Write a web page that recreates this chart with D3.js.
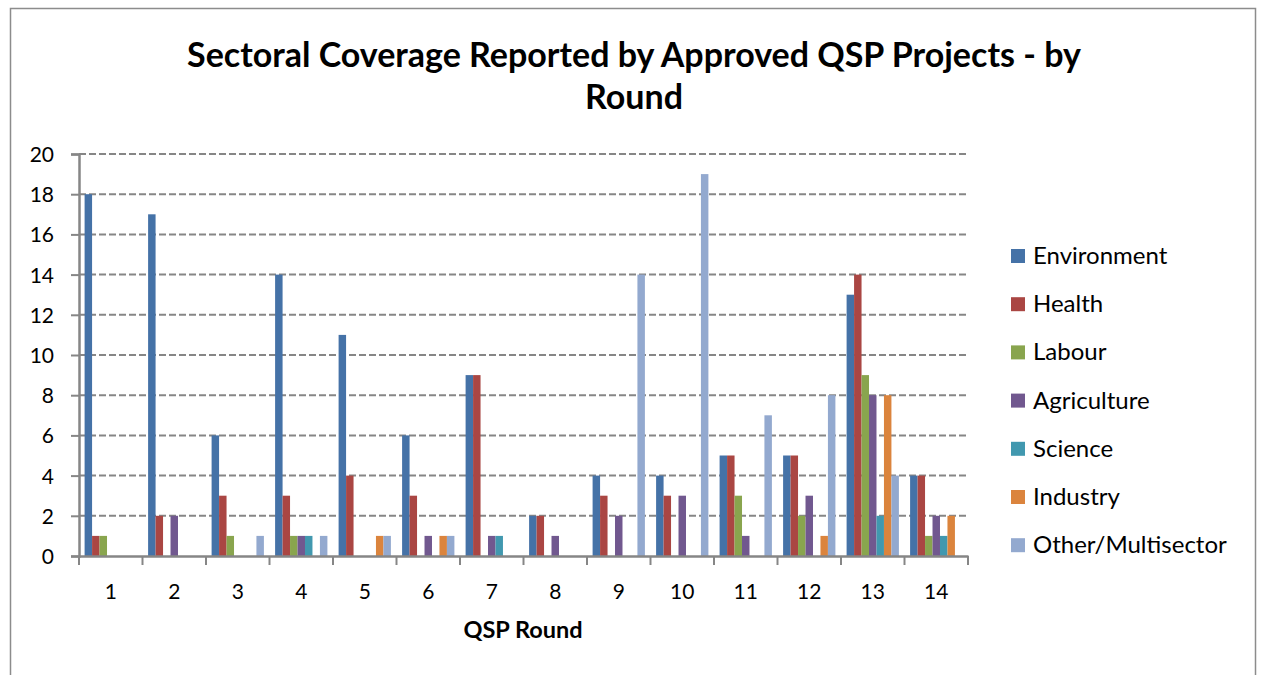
<!DOCTYPE html>
<html><head><meta charset="utf-8">
<script src="https://cdn.jsdelivr.net/npm/d3@7"></script>
<style>body{margin:0;background:#fff}svg{display:block}</style>
</head><body>
<svg id="c" width="1264" height="675"></svg>
<script>
const rounds = ["1","2","3","4","5","6","7","8","9","10","11","12","13","14"];
const seriesNames = ["Environment","Health","Labour","Agriculture","Science","Industry","Other/Multisector"];
const environment = [18,17,6,14,11,6,9,2,4,4,5,5,13,4];
const health      = [1,2,3,3,4,3,9,2,3,3,5,5,14,4];
const labour      = [1,0,1,1,0,0,0,0,0,0,3,2,9,1];
const agriculture = [0,2,0,1,0,1,1,1,2,3,1,3,8,2];
const science     = [0,0,0,1,0,0,1,0,0,0,0,0,2,1];
const industry    = [0,0,0,0,1,1,0,0,0,0,0,1,8,2];
const other       = [0,0,1,1,1,1,0,0,14,19,7,8,4,0];
const yTicks = [0,2,4,6,8,10,12,14,16,18,20];
const colors = ["#4572A7","#AA4643","#89A54E","#71588F","#4198AF","#DB843D","#93A9CF"];
const values = [environment,health,labour,agriculture,science,industry,other];

const svg = d3.select("#c");
const font = "Lato, 'Open Sans', sans-serif";
svg.append("rect").attr("x",10.5).attr("y",8.5).attr("width",1245).attr("height",700)
  .attr("fill","#fff").attr("stroke","#8c8c8c").attr("stroke-width",1.5);

const L=79, R=968, T=154, B=556;
const x = d3.scaleBand().domain(rounds).range([L,R]).padding(0);
const y = d3.scaleLinear().domain([0,20]).range([B,T]);
const bw = x.bandwidth()/8.5;
const xs = d3.scaleBand().domain(seriesNames).range([0.75*bw, 7.75*bw]);

svg.append("g").selectAll("line").data(yTicks.filter(d=>d>0)).join("line")
  .attr("x1",L).attr("x2",R).attr("y1",d=>y(d)).attr("y2",d=>y(d))
  .attr("stroke","#868686").attr("stroke-width",2).attr("stroke-dasharray","7,3");

const g = svg.append("g");
seriesNames.forEach((s,i)=>{
  g.append("g").selectAll("rect").data(rounds.map((r,j)=>({r,v:values[i][j]}))).join("rect")
    .attr("x",d=>x(d.r)+xs(s)).attr("width",xs.bandwidth())
    .attr("y",d=>y(d.v)).attr("height",d=>B-y(d.v)).attr("fill",colors[i]);
});

const ya = svg.append("g").attr("transform",`translate(${L},0)`)
  .call(d3.axisLeft(y).tickValues(yTicks).tickSize(8).tickPadding(17));
ya.select(".domain").attr("stroke","#868686").attr("stroke-width",2.5);
ya.selectAll(".tick line").attr("stroke","#868686").attr("stroke-width",2);
ya.selectAll("text").attr("font-family",font).attr("font-size",21).attr("fill","#000").attr("dy","0.36em");

const xa = svg.append("g").attr("transform",`translate(0,${B})`)
  .call(d3.axisBottom(x).tickSize(0).tickPadding(28));
xa.select(".domain").attr("stroke","#868686").attr("stroke-width",2.5);
xa.selectAll("text").attr("font-family",font).attr("font-size",21).attr("fill","#000");
svg.append("g").selectAll("line").data(d3.range(15)).join("line")
  .attr("x1",d=>L+d*x.step()).attr("x2",d=>L+d*x.step()).attr("y1",B).attr("y2",B+9)
  .attr("stroke","#868686").attr("stroke-width",2);

svg.append("text").attr("x",523).attr("y",638).attr("text-anchor","middle")
  .attr("font-family",font).attr("font-size",23.5).attr("font-weight","bold").text("QSP Round");

const title = svg.append("text").attr("text-anchor","middle").attr("font-family",font)
  .attr("font-size",34).attr("font-weight","bold");
title.append("tspan").attr("x",634).attr("y",67).text("Sectoral Coverage Reported by Approved QSP Projects - by");
title.append("tspan").attr("x",634).attr("y",109).text("Round");

const lg = svg.append("g");
seriesNames.forEach((s,i)=>{
  const yy = 256 + i*48.2;
  lg.append("rect").attr("x",1011).attr("y",yy-7).attr("width",14).attr("height",14).attr("fill",colors[i]);
  lg.append("text").attr("x",1033).attr("y",yy+8).attr("font-family",font).attr("font-size",24).text(s);
});
</script>
</body></html>
